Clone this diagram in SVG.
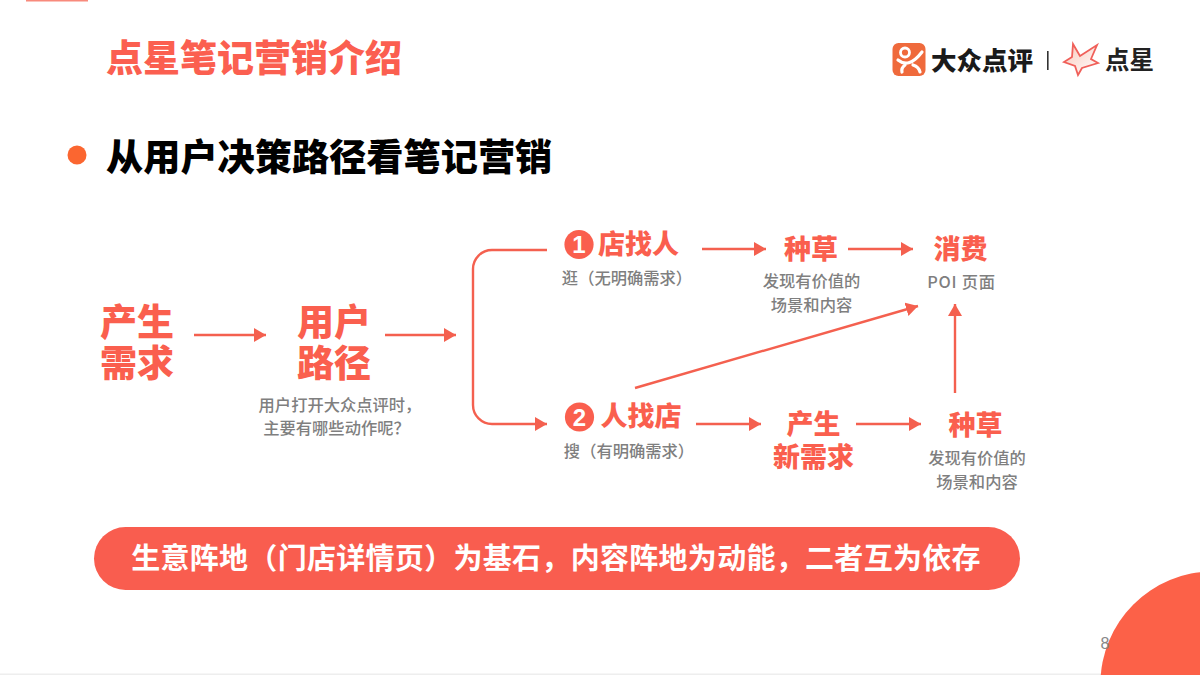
<svg xmlns="http://www.w3.org/2000/svg" width="1200" height="675" viewBox="0 0 1200 675">
<style>
text{font-family:"Noto Sans CJK SC","Noto Sans",sans-serif;text-spacing-trim:space-all;font-feature-settings:"chws" 0,"halt" 0}
.h{fill:#fa5f4e;font-weight:900;text-anchor:middle}
.big{font-size:37px}
.mid{font-size:27px}
.s{fill:#7f7f7f;font-size:16.300px;font-weight:500;text-anchor:middle}
.c{fill:none;stroke:#f4604f;stroke-width:2.4}
.num{fill:#fff;font-size:24px;font-weight:700;text-anchor:middle;font-family:"Liberation Sans",sans-serif}
</style>
<defs>
<marker id="a" markerUnits="userSpaceOnUse" markerWidth="13" markerHeight="15" refX="12" refY="7" orient="auto"><path d="M0 0L12 7L0 14Z" fill="#f4604f"/></marker>
<linearGradient id="star" x1="1" y1="1" x2="0" y2="0"><stop offset="0" stop-color="#fff"/><stop offset="1" stop-color="#f9c9bb"/></linearGradient>
</defs>
<rect width="1200" height="675" fill="#fff"/>
<rect x="26" y="0" width="62" height="1.500" fill="#f88a7c"/>
<rect x="0" y="673.500" width="1200" height="1.500" fill="#eeeeee"/>
<g id="title"><text x="106" y="72" fill="#fb5f50" style="font-size:37px;font-weight:900">点星笔记营销介绍</text></g>
<g id="logo">
<rect x="892.500" y="43" width="33" height="33" rx="6" fill="#ef6a3c"/>
<circle cx="905" cy="52.500" r="4.500" fill="none" stroke="#fff" stroke-width="2.800"/>
<path d="M898 60Q909 69 922 52M905 65Q901 68 902 72M913 65Q919 67 920 72" fill="none" stroke="#fff" stroke-width="3.200" stroke-linecap="round"/>
<text x="931" y="70" font-size="25.500" font-weight="900" fill="#1a1a1a">大众点评</text>
<rect x="1047" y="51" width="1.600" height="19" fill="#333"/>
<path d="M1073 44L1080 56L1097 45L1091 59L1098 63L1082 68L1078 75L1075 66L1064 62L1072 57Z" fill="url(#star)" stroke="#f0605a" stroke-width="1.800"/>
<text x="1105" y="69" font-size="24.500" font-weight="700" fill="#222">点星</text>
</g>
<g id="heading">
<circle cx="77" cy="155" r="9.500" fill="#fb6630"/>
<text x="106" y="171" font-size="37.200" font-weight="900" fill="#000">从用户决策路径看笔记营销</text>
</g>
<g id="connectors">
<path class="c" marker-end="url(#a)" d="M194 335H266"/>
<path class="c" marker-end="url(#a)" d="M385 335H456"/>
<path class="c" marker-end="url(#a)" d="M547 250H492A19 19 0 0 0 473 269V405A19 19 0 0 0 492 424H547"/>
<path class="c" marker-end="url(#a)" d="M702 249H766"/>
<path class="c" marker-end="url(#a)" d="M848 249H913"/>
<path class="c" marker-end="url(#a)" d="M696 424H761"/>
<path class="c" marker-end="url(#a)" d="M856 424H921"/>
<path class="c" marker-end="url(#a)" d="M955 393V304"/>
<path class="c" marker-end="url(#a)" d="M635 388L918 306"/>
</g>
<g id="need"><text class="h big"><tspan x="137" y="336">产生</tspan><tspan x="137" y="377">需求</tspan></text></g>
<g id="path"><text class="h big"><tspan x="334" y="336">用户</tspan><tspan x="334" y="377">路径</tspan></text>
<text class="s" x="340" y="411">用户打开大众点评时，</text><text class="s" x="336.500" y="434">主要有哪些动作呢？</text></g>
<g id="store-finds">
<circle cx="579" cy="244.500" r="14.600" fill="#fa5f4e"/><text class="num" x="579" y="253">1</text>
<text class="h mid" x="638.500" y="254">店找人</text>
<text class="s" x="627" y="284">逛（无明确需求）</text></g>
<g id="grass-1"><text class="h mid" x="811" y="259">种草</text>
<text class="s" x="811.500" y="287">发现有价值的</text><text class="s" x="811.500" y="311">场景和内容</text></g>
<g id="consume"><text class="h mid" x="960.500" y="259">消费</text><text class="s" x="961.500" y="287.500" style="letter-spacing:.7px">POI 页面</text></g>
<g id="people-find">
<circle cx="579.500" cy="417" r="14.600" fill="#fa5f4e"/><text class="num" x="579.500" y="425.500">2</text>
<text class="h mid" x="641" y="426">人找店</text>
<text class="s" x="629" y="456.500">搜（有明确需求）</text></g>
<g id="new-need"><text class="h mid"><tspan x="813.500" y="434">产生</tspan><tspan x="813.500" y="466.500">新需求</tspan></text></g>
<g id="grass-2"><text class="h mid" x="975.500" y="435">种草</text>
<text class="s" x="977" y="463.500">发现有价值的</text><text class="s" x="977" y="487.500">场景和内容</text></g>
<g id="banner"><rect x="94" y="527" width="926" height="63" rx="31.500" fill="#f95d4f"/>
<text x="556" y="569" font-size="29" font-weight="700" fill="#fff" text-anchor="middle" style="letter-spacing:.3px">生意阵地（门店详情页）为基石，内容阵地为动能，二者互为依存</text></g>
<g id="corner"><circle cx="1213" cy="684" r="112.600" fill="#fc6148"/>
<text x="1105" y="649" font-size="16" fill="#888" text-anchor="middle" style="font-family:'Liberation Sans',sans-serif">8</text></g>
</svg>
